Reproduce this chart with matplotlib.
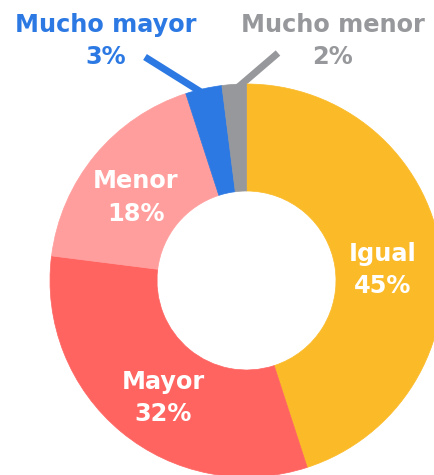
import numpy as np
import matplotlib
matplotlib.use("Agg")
import matplotlib.pyplot as plt

# data
labels = ["Igual", "Mayor", "Menor", "Mucho mayor", "Mucho menor"]
values = [45, 32, 18, 3, 2]
colors = ["#FBBA27", "#FF6461", "#FF9E9D", "#2C79E4", "#97989B"]

# layout (pixels of the 434x475 image)
W, H = 434, 475
cx, cy, R = 246.5, 280.5, 196.5
hole = 89.5 / R


def px(x, y):
    # pixel position -> data coords (pie radius = 1)
    return (x - cx) / R, (cy - y) / R


fig = plt.figure(figsize=(W / 100, H / 100), dpi=100)
ax = fig.add_axes([0, 0, 1, 1])

wedges, _ = ax.pie(values, colors=colors, startangle=90, counterclock=False,
                   radius=1, wedgeprops=dict(width=1 - hole, linewidth=0.5))
for w in wedges:
    w.set_edgecolor(w.get_facecolor())
ax.set_aspect("auto")
ax.set_xlim(-cx / R, (W - cx) / R)
ax.set_ylim(-(H - cy) / R, cy / R)
ax.axis("off")

fs = 17.3
font = dict(fontsize=fs, fontweight="bold", ha="center", va="baseline", family="DejaVu Sans")

# labels inside the ring: (center x, baseline of name, baseline of percent)
inner_pos = {"Igual": (383, 261, 293), "Mayor": (163.5, 389, 421), "Menor": (135.5, 188, 221)}
for lab, val in zip(labels, values):
    if lab in inner_pos:
        x, y1, y2 = inner_pos[lab]
        ax.text(*px(x, y1), lab, color="white", **font)
        ax.text(*px(x, y2), f"{val}%", color="white", **font)

# small slices: outside label + leader line
outer_pos = {"Mucho mayor": (105.5, 32, 64, 145, 57), "Mucho menor": (332.5, 32, 64, 278, 53)}
ang = 90.0
for lab, val, col in zip(labels, values, colors):
    mid = np.deg2rad(ang - val * 3.6 / 2)
    ang -= val * 3.6
    if lab not in outer_pos:
        continue
    x, y1, y2, lx, ly = outer_pos[lab]
    ex, ey = px(lx, ly)
    ax.plot([0.97 * np.cos(mid), ex], [0.97 * np.sin(mid), ey], color=col, lw=5,
            solid_capstyle="butt", zorder=0.5)
    ax.text(*px(x, y1), lab, color=col, **font)
    ax.text(*px(x, y2), f"{val}%", color=col, **font)

fig.savefig("out.png", dpi=100)
